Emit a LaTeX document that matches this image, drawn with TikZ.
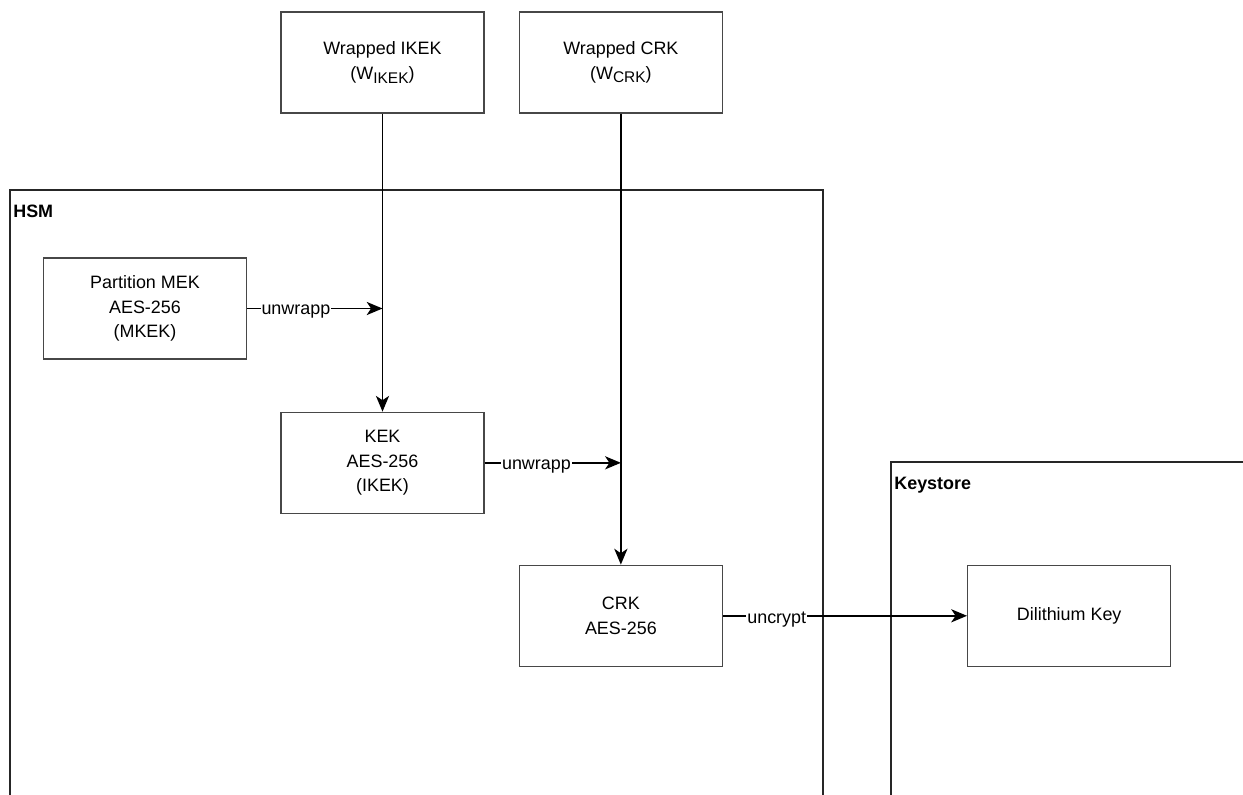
\documentclass[tikz,border=0pt]{standalone}
\usepackage{fontspec}
\setmainfont{Liberation Sans}
\usepackage{tikz}
\usetikzlibrary{arrows.meta,positioning}

\newcommand{\keysub}[1]{\raisebox{-0.4ex}{\fontsize{8.8}{9}\selectfont #1}}

\begin{document}
\begin{tikzpicture}[
  x=0.02cm, y=-0.02cm, >={Stealth[length=9pt,width=7.5pt,inset=2.5pt]},
  font=\fontsize{10.2}{13.8}\selectfont,
  keybox/.style={draw=black!72, line width=0.8pt, fill=white, minimum width=4.06cm, minimum height=2.02cm, align=center, inner sep=2pt},
  group/.style={draw=black!85, line width=0.7pt},
  grouptitle/.style={anchor=north west, inner sep=0pt, font=\fontsize{10.2}{12.2}\selectfont\bfseries},
  arrow/.style={->, line width=0.8pt, black},
  edgelabel/.style={fill=white, inner sep=0.5pt, yshift=-2pt}
]
\useasboundingbox (0,0) rectangle (1243,794);
\clip (0,0) rectangle (1243,794);

% containers (open at the bottom of the page)
\draw[group] (10,830) |- (823,190) -- (823,830);
\node[grouptitle] (hsmtitle) at (13,205) {HSM};
\draw[group] (891,830) |- (1280,462);
\node[grouptitle] (kstitle) at (894,477) {Keystore};

% keys
\node[keybox] (wikek) at (382.5,62.5) {Wrapped IKEK\\(W\keysub{IKEK})};
\node[keybox, right=0.68cm of wikek] (wcrk) {Wrapped CRK\\(W\keysub{CRK})};
\node[keybox] (mek) at (145,308.5) {Partition MEK\\AES-256\\(MKEK)};
\node[keybox, below=5.96cm of wikek] (kek) {KEK\\AES-256\\(IKEK)};
\node[keybox, below=9.02cm of wcrk] (crk) {CRK\\AES-256};
\node[keybox, right=4.88cm of crk] (dil) {Dilithium Key};

\coordinate (ikekjoin) at (wikek.south |- mek.east);
\coordinate (crkjoin) at (wcrk.south |- kek.east);

\draw[arrow] (wikek) -- (kek);
\draw[arrow] (wcrk) -- (crk);
\draw[arrow] (mek.east) -- node[edgelabel, pos=0.36] {unwrapp} (ikekjoin);
\draw[arrow] (kek.east) -- node[edgelabel, pos=0.38] {unwrapp} (crkjoin);
\draw[arrow] (crk) -- node[edgelabel, pos=0.22] {uncrypt} (dil);

\end{tikzpicture}
\end{document}
